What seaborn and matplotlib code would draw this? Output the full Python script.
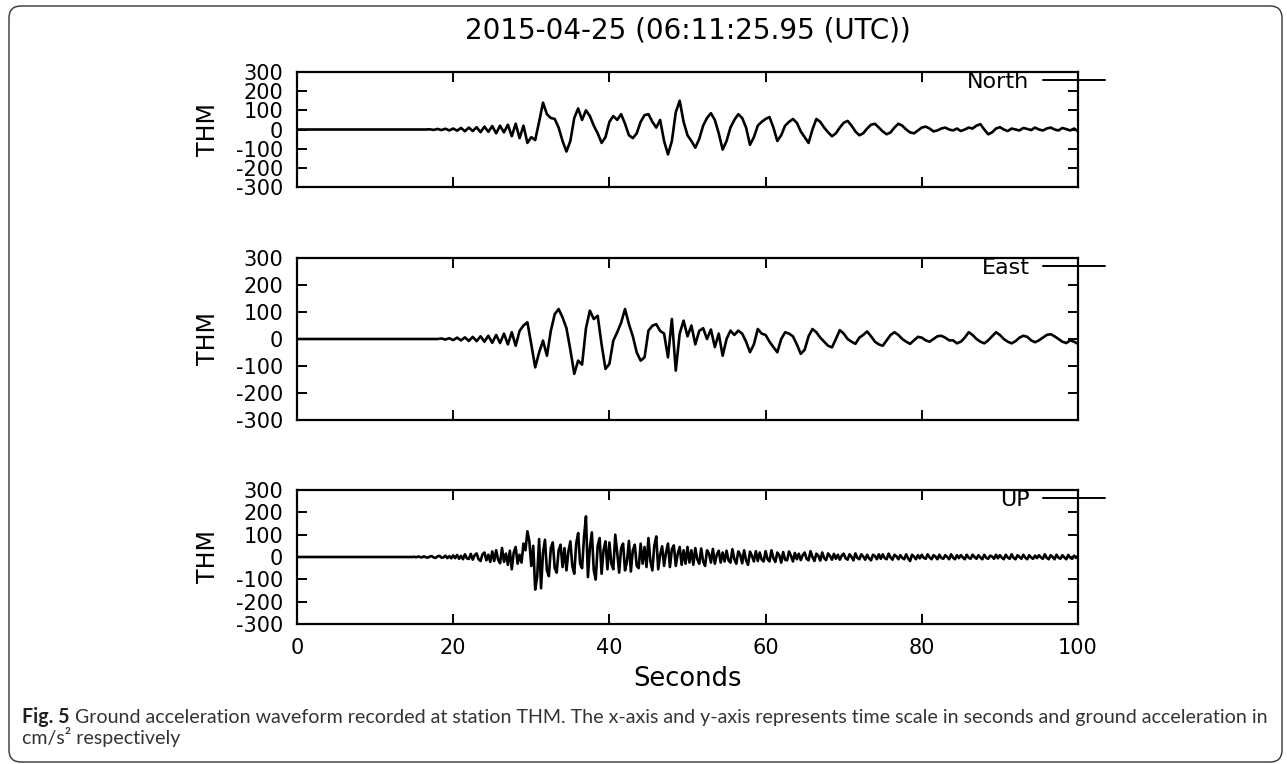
import numpy as np
import pandas as pd
import matplotlib.pyplot as plt
import seaborn as sns
from matplotlib import font_manager
from matplotlib.patches import FancyBboxPatch
from matplotlib.transforms import IdentityTransform

# digitised traces (cm/s^2), 0 to 100 s
# North and East read every 0.5 s, UP every 0.25 s (it is much noisier)
north = [
    0, 0, 0, 0, 0, 0, 0, 0, 0, 0,
    0, 0, 0, 0, 0, 0, 0, 0, 0, 0,
    0, 0, 0, 0, 0, 0, 0, 0, 0, 0,
    0, 0, 0, 0, 1, -2, 3, -3, 4, -5,
    5, -6, 8, -9, 10, -8, 12, -14, 15, -12,
    18, -20, 20, -15, 25, -35, 30, -45, 20, -70,
    -40, -55, 40, 140, 80, 60, 55, 10, -60, -115,
    -60, 60, 110, 50, 100, 70, 20, -20, -70, -40,
    40, 70, 50, 80, 30, -30, -45, -20, 40, 75,
    80, 40, 10, 50, -60, -130, -60, 90, 150, 40,
    -30, -60, -95, -50, 20, 60, 85, 50, -20, -105,
    -60, 10, 50, 80, 60, 10, -80, -40, 20, 40,
    55, 65, 10, -60, -30, 20, 40, 55, 35, -10,
    -40, -70, 0, 55, 40, 10, -15, -35, -20, 10,
    35, 45, 20, -10, -30, -20, 5, 25, 30, 10,
    -10, -25, -15, 10, 30, 20, 0, -15, -20, -5,
    10, 15, 5, -10, -5, 5, 10, 0, -5, 5,
    -8, 0, 10, 5, 20, 28, 0, -25, -15, 5,
    12, 0, -8, 5, 0, -5, 8, 3, -3, 10,
    0, -5, 5, 10, 0, -5, 8, 2, -5, 5,
    -10,
]

east = [
    0, 0, 0, 0, 0, 0, 0, 0, 0, 0,
    0, 0, 0, 0, 0, 0, 0, 0, 0, 0,
    0, 0, 0, 0, 0, 0, 0, 0, 0, 0,
    0, 0, 0, 0, 0, 0, 0, 2, -2, 3,
    -4, 5, -5, 6, -7, 8, -8, 10, -10, 12,
    -14, 15, -15, 20, -20, 25, -25, 30, 50, 62,
    -20, -105, -50, -6, -62, 30, 92, 111, 80, 40,
    -40, -129, -80, -95, 40, 105, 74, 86, -20, -111,
    -92, -6, 25, 60, 111, 55, 10, -50, -80, -68,
    31, 49, 55, 30, 20, -68, 74, -117, 20, 68,
    10, 50, -20, 30, 40, 0, 35, -30, 20, -62,
    0, 31, 15, 31, 20, -10, -49, -20, 37, 20,
    15, -10, -30, -49, 0, 25, 20, 10, -20, -55,
    -40, 10, 37, 25, 5, -10, -25, -31, 0, 33,
    20, 0, -10, -18, 5, 15, 28, 10, -10, -20,
    -25, -5, 15, 25, 15, 0, -10, -18, -5, 8,
    5, -5, -10, 0, 10, 12, 5, -5, -5, -16,
    -10, 5, 25, 15, 0, -10, -16, -5, 10, 25,
    15, 0, -10, -16, -8, 5, 12, 8, -5, -12,
    -5, 5, 15, 18, 10, 0, -10, -15, -5, -10,
    -18,
]

up = [
    0, 0, 0, 0, 0, 0, 0, 0, 0, 0, 0, 0, 0, 0, 0, 0, 0, 0, 0, 0,
    0, 0, 0, 0, 0, 0, 0, 0, 0, 0, 0, 0, 0, 0, 0, 0, 0, 0, 0, 0,
    0, 0, 0, 0, 0, 0, 0, 0, 0, 0, 0, 0, 0, 0, 0, 0, 0, 0, 0, 0,
    1, -1, 2, 0, -2, 3, -1, -3, 2, 4, -2, -4, 3, 5, -3, -2, 6, -5, 4, -6,
    7, -5, 9, -8, 5, -10, 12, -6, -9, 14, -12, 8, 16, -10, -18, 12, 20, -15, 10, -22,
    25, -18, 30, -12, -28, 40, -22, 15, -35, 28, -55, 20, 45, -30, 10, -25, 60, 30, 115, 70,
    -40, 50, -146, -90, 80, -140, 20, 77, -60, -86, 40, 65, -50, -70, 30, 55, -45, 40, -60, 25,
    70, -40, -75, 60, 107, -30, -50, 90, 182, -90, 40, 110, -60, -101, 50, 85, -75, 30, 70, -55,
    65, -30, -55, 100, 20, -70, 40, 60, -60, -20, 72, -65, 30, 55, -40, -50, 60, -30, 45, -45,
    85, -20, -60, 50, 92, -55, 10, 48, -40, 20, 60, -45, 35, 52, -40, 15, 45, -35, 30, -30,
    45, -25, 30, -35, 40, -10, -30, 38, -20, -40, 30, 15, -25, 36, -30, 10, 28, -25, 20, -20,
    28, -15, -25, 35, -10, -30, 25, 10, -28, 30, -15, -35, 24, 5, -20, 26, -18, 20, -12, -20,
    26, -10, -20, 30, -5, -22, 20, 8, -25, 22, -12, -15, 25, 5, -20, 18, -10, 15, -14, 8,
    20, -8, -15, 26, 0, -18, 15, 6, -16, 20, -5, -14, 16, 4, -12, 14, -8, 10, -12, 6,
    15, -6, -12, 12, 0, -15, 16, -4, -10, 12, 2, -12, 10, -6, -15, 10, 4, -10, 12, -8,
    12, -5, -10, 15, -2, -12, 10, 3, -10, 8, -4, -10, 12, -6, -18, 10, 2, -10, 8, -6,
    10, -4, -8, 12, -2, -10, 8, 2, -10, 10, -4, -8, 8, 0, -10, 12, -3, -10, 8, -5,
    8, -2, -10, 10, -3, -8, 10, 0, -8, 8, -2, -10, 10, -4, -8, 6, 2, -8, 10, -6,
    8, -3, -10, 10, -2, -8, 12, -4, -10, 8, 0, -8, 10, -3, -10, 8, -2, -8, 6, -5,
    8, -2, -8, 12, -4, -10, 8, 0, -10, 10, -3, -8, 8, -2, -10, 9, -3, -8, 6, -4,
    5,
]

components = ['North', 'East', 'UP']
traces = {'North': (north, 0.5), 'East': (east, 0.5), 'UP': (up, 0.25)}
station = 'THM'
title = '2015-04-25 (06:11:25.95 (UTC))'
x_ticks = [0, 20, 40, 60, 80, 100]
y_ticks = [-300, -200, -100, 0, 100, 200, 300]
caption_bold = 'Fig. 5'
caption_1 = ('Ground acceleration waveform recorded at station THM. The x-axis and '
             'y-axis represents time scale in seconds and ground acceleration in')
caption_2 = 'cm/s\u00b2 respectively'

sns.set_theme(style='ticks')
plt.rcParams['font.family'] = ['DejaVu Sans']
plt.rcParams['axes.unicode_minus'] = False

W, H = 1287, 764
fig = plt.figure(figsize=(W / 100, H / 100), dpi=100)

# panel boxes in pixels (top, bottom), shared left/right
boxes = [(72, 187), (258, 420), (490, 624)]
left, right = 297, 1078

axes = []
for (top, bottom), comp in zip(boxes, components):
    values, step = traces[comp]
    df = pd.DataFrame({'Seconds': np.arange(len(values)) * step, comp: values})
    ax = fig.add_axes([left / W, 1 - bottom / H, (right - left) / W, (bottom - top) / H])
    sns.lineplot(data=df, x='Seconds', y=comp, ax=ax, color='black',
                 linewidth=1.9, label=comp, estimator=None)
    ax.set_xlim(0, 100)
    ax.set_ylim(-300, 300)
    ax.set_xticks(x_ticks)
    ax.set_yticks(y_ticks)
    ax.tick_params(direction='in', length=7, width=1.4, top=True, right=True,
                   labelsize=15, pad=10, colors='black')
    for sp in ax.spines.values():
        sp.set_linewidth(1.6)
        sp.set_color('black')
    ax.set_xlabel('')
    ax.set_ylabel(station, fontsize=17, color='black')
    ax.yaxis.set_label_coords(-0.098, 0.5)
    leg = ax.legend(loc='upper right', bbox_to_anchor=(1.0346, 1.0), frameon=False,
                    markerfirst=False, handlelength=2.8, handletextpad=0.6,
                    borderpad=0, borderaxespad=0, fontsize=16, labelcolor='black')
    for h in leg.get_lines():
        h.set_linewidth(1.4)
    axes.append(ax)

for ax in axes[:-1]:
    ax.tick_params(labelbottom=False)

axes[0].set_title(title, fontsize=20, pad=24, color='black')
axes[-1].set_xlabel('Seconds', fontsize=18.5, color='black')
axes[-1].xaxis.set_label_coords(0.5, -0.31)

# rounded frame around the whole figure
frame = FancyBboxPatch((9, 2), 1273, 756, boxstyle='round,pad=0,rounding_size=12',
                       transform=IdentityTransform(), fill=False,
                       edgecolor='#333333', linewidth=1.0)
fig.add_artist(frame)

# caption, stretched to the width used in the reference
names = {f.name for f in font_manager.fontManager.ttflist}
cap_font = 'Liberation Sans Narrow' if 'Liberation Sans Narrow' in names else 'Lato'
x0, x1 = 22, 1275
base_1, base_2 = 1 - 723 / H, 1 - 744 / H
fs = 14
t_b = fig.text(x0 / W, base_1, caption_bold, fontsize=fs, weight='bold',
               family=cap_font, color='#231f20', va='baseline')
t_1 = fig.text(0, base_1, caption_1, fontsize=fs, family=cap_font,
               color='#333333', va='baseline')
t_2 = fig.text(x0 / W, base_2, caption_2, fontsize=fs, family=cap_font,
               color='#333333', va='baseline')
r = fig.canvas.get_renderer()
total = (t_b.get_window_extent(r).width + 0.27 * fs * 100 / 72
         + t_1.get_window_extent(r).width)
fs = fs * (x1 - x0) / total
for t in (t_b, t_1, t_2):
    t.set_fontsize(fs)
gap = 0.27 * fs * 100 / 72
t_1.set_x((x0 + t_b.get_window_extent(r).width + gap) / W)

fig.savefig('out.png', dpi=100)
